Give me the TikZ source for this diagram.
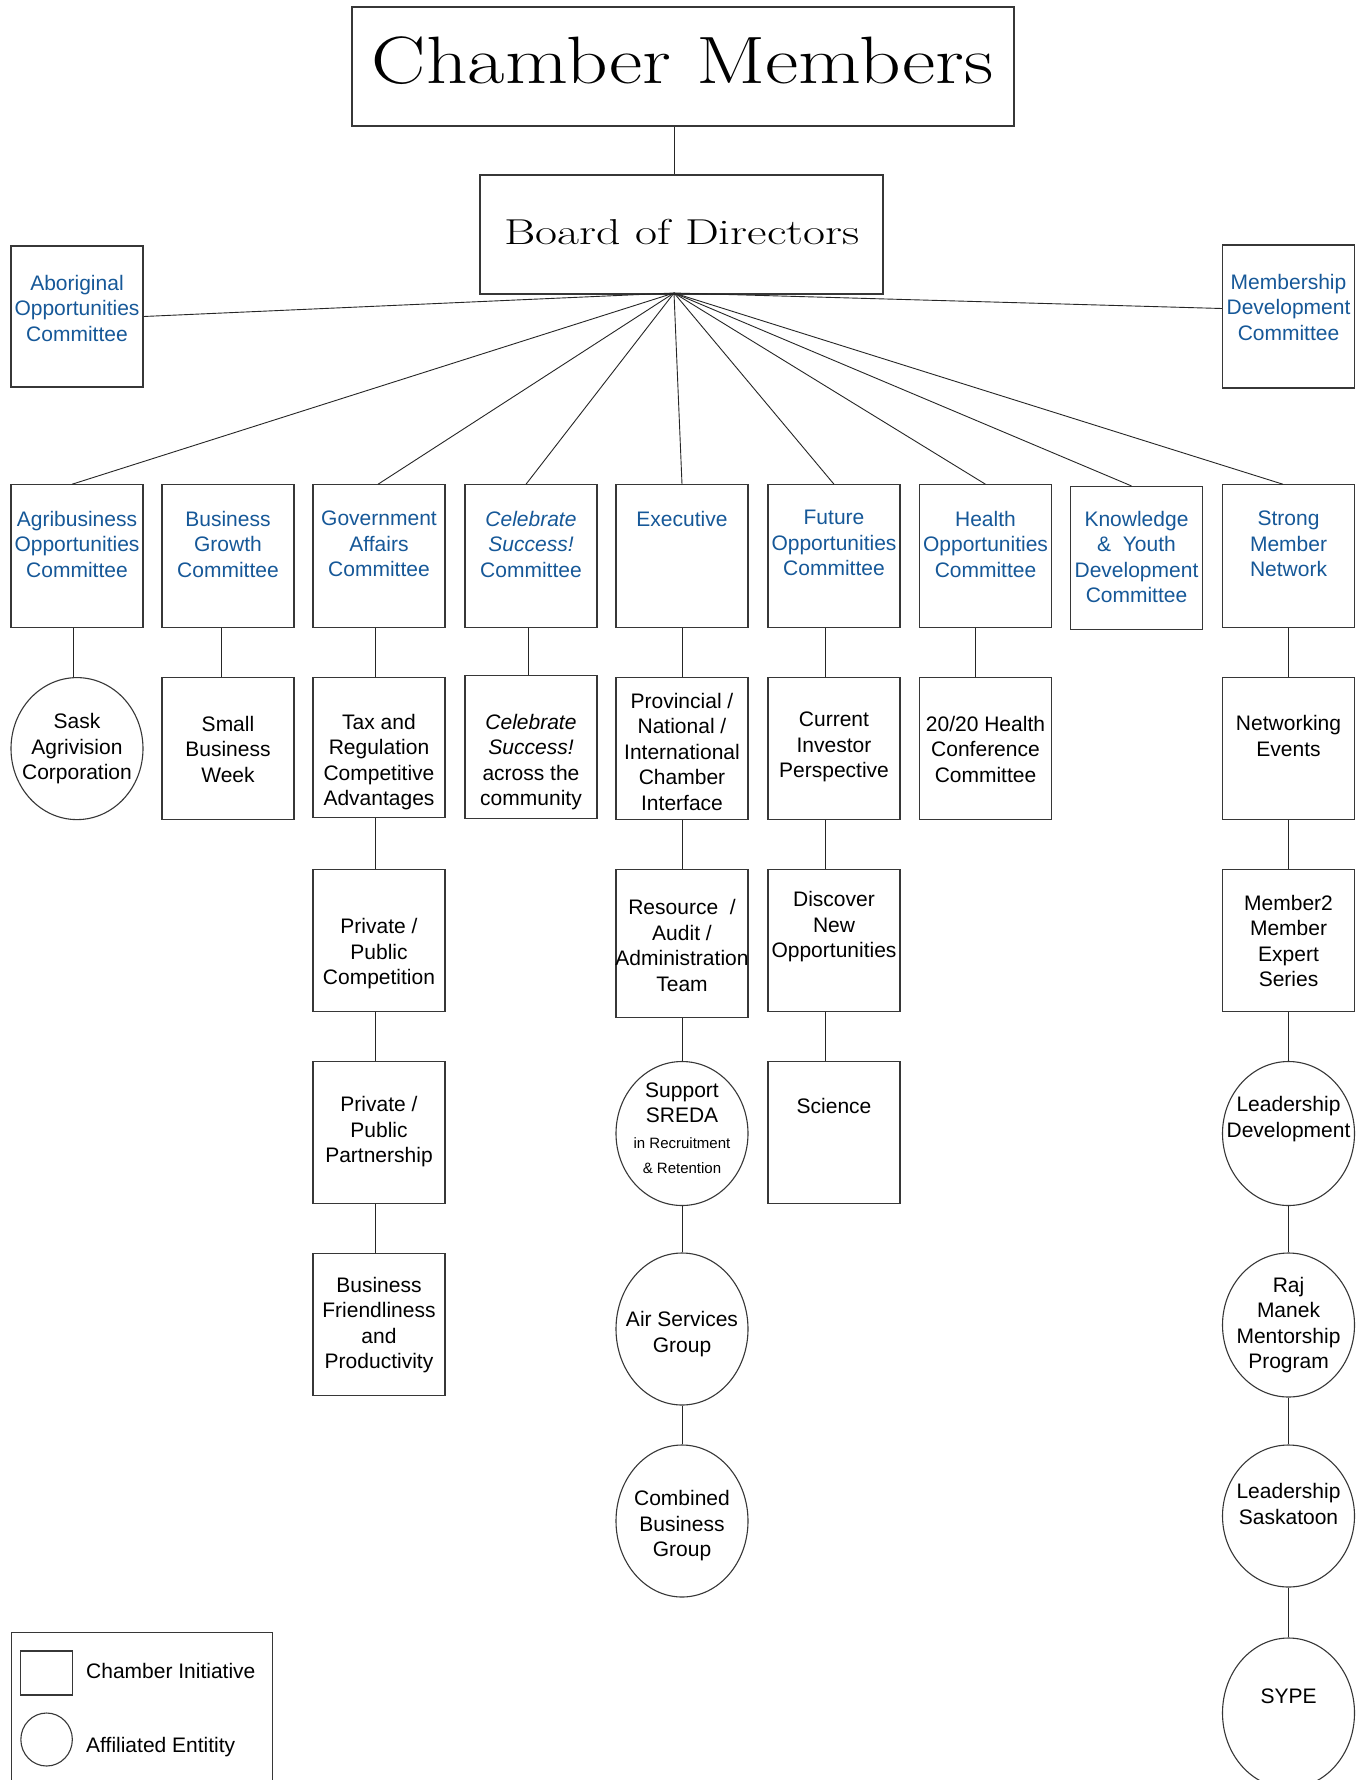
\documentclass[tikz,border=0pt]{standalone}
\usepackage{fontspec}
\setsansfont{Liberation Sans}
\usetikzlibrary{shapes.geometric}
\definecolor{cblue}{RGB}{22,88,152}
\definecolor{lin}{RGB}{55,55,55}
\begin{document}
\begin{tikzpicture}[x=1pt,y=-1pt,
  shp/.style={draw=lin, line width=1.1pt, inner sep=0pt},
  bx/.style={shp, rectangle, minimum width=132pt, minimum height=143pt},
  ov/.style={shp, ellipse, minimum width=132pt, minimum height=#1},
  ov/.default=143pt,
  tx/.style={font=\sffamily\fontsize{21}{25.5}\selectfont, align=center, inner sep=0pt},
  btx/.style={tx, text=cblue},
  ln/.style={draw=black!85, line width=0.9pt}
]
\useasboundingbox (0,0) rectangle (1369,1780);
\clip (0,0) rectangle (1369,1780);
\fill[white] (0,0) rectangle (1369,1780);

% top
\node[shp, rectangle, minimum width=662pt, minimum height=119pt] (title) at (683,66.5) {};
\node[inner sep=0pt, font=\rmfamily\fontsize{67}{70}\selectfont] (titlet) at (683,61) {\scalebox{1.215}[1]{Chamber Members}};
\node[shp, rectangle, minimum width=403pt, minimum height=119pt] (board) at (681.5,234.5) {};
\node[inner sep=0pt, font=\rmfamily\fontsize{36}{40}\selectfont] (boardt) at (682,232) {\scalebox{1.33}[1]{Board of Directors}};
\coordinate (fan) at (674,293);

% side committees
\node[bx, minimum height=141pt] (abor) at (77,316.5) {};
\node[btx] (abort) at (77,308) {Aboriginal\\Opportunities\\Committee};
\node[bx] (memb) at (1288.5,316.5) {};
\node[btx] (membt) at (1288.5,307) {Membership\\Development\\Committee};

% row 1
\node[bx] (agri) at (77,556.3) {};
\node[btx] (agrit) at (77,544) {Agribusiness\\Opportunities\\Committee};
\node[bx] (bg) at (228,556.3) {};
\node[btx] (bgt) at (228,544) {Business\\Growth\\Committee};
\node[bx] (gov) at (379,556.3) {};
\node[btx] (govt) at (379,544) {Government\\Affairs\\Committee};
\node[bx] (cel) at (531,556.3) {};
\node[btx] (celt) at (531,544) {\itshape Celebrate\\\itshape Success!\\Committee};
\node[bx] (exec) at (682,556.3) {};
\node[btx] (exect) at (682,519) {Executive};
\node[bx] (fut) at (834,556.3) {};
\node[btx] (futt) at (834,543) {Future\\Opportunities\\Committee};
\node[bx] (hea) at (985.5,556.3) {};
\node[btx] (heat) at (985.5,544) {Health\\Opportunities\\Committee};
\node[bx] (kno) at (1136.5,558) {};
\node[btx] (knot) at (1136.5,557) {Knowledge\\\&\ \ Youth\\Development\\Committee};
\node[bx] (str) at (1288.5,556.3) {};
\node[btx] (strt) at (1288.5,544) {Strong\\Member\\Network};

% row 2
\node[ov=142pt] (sask) at (77,748.6) {};
\node[tx] (saskt) at (77,749) {Sask\\Agrivision\\Corporation};
\node[bx, minimum height=142pt] (small) at (228,748.6) {};
\node[tx] (smallt) at (228,749) {Small\\Business\\Week};
\node[bx, minimum height=140pt] (tax) at (379,747.5) {};
\node[tx] (taxt) at (379,762) {Tax and\\Regulation\\Competitive\\Advantages};
\node[bx, minimum height=143pt] (cel2) at (531,747) {};
\node[tx] (cel2t) at (531,762) {\itshape Celebrate\\\itshape Success!\\across the\\community};
\node[bx, minimum height=142pt] (prov) at (682,748.6) {};
\node[tx] (provt) at (682,751.5) {Provincial /\\National /\\International\\Chamber\\Interface};
\node[bx, minimum height=142pt] (cur) at (834,748.6) {};
\node[tx] (curt) at (834,747) {Current\\Investor\\Perspective};
\node[bx, minimum height=142pt] (hc) at (985.5,748.6) {};
\node[tx] (hct) at (985.5,749) {20/20 Health\\Conference\\Committee};
\node[bx, minimum height=142pt] (netw) at (1288.5,748.6) {};
\node[tx] (netwt) at (1288.5,736) {Networking\\Events};

% row 3
\node[bx, minimum height=142pt] (ppc) at (379,940.5) {};
\node[tx] (ppct) at (379,953.6) {Private /\\Public\\Competition};
\node[bx, minimum height=147.6pt] (res) at (682,943.3) {};
\node[tx] (rest) at (682,945.6) {Resource\ \ /\\Audit /\\Administration\\Team};
\node[bx, minimum height=142pt] (disc) at (834,940.5) {};
\node[tx] (disct) at (834,927) {Discover\\New\\Opportunities};
\node[bx, minimum height=142pt] (mm) at (1288.5,940.5) {};
\node[tx] (mmt) at (1288.5,941) {Member2\\Member\\Expert\\Series};

% row 4
\node[bx, minimum height=142pt] (ppp) at (379,1132.4) {};
\node[tx] (pppt) at (379,1132) {Private /\\Public\\Partnership};
\node[ov=144pt] (sreda) at (682,1133.5) {};
\node[tx] (sredat) at (682,1128) {Support\\SREDA\\{\fontsize{15}{18}\selectfont in Recruitment}\\{\fontsize{15}{18}\selectfont \& Retention}};
\node[bx, minimum height=142pt] (sci) at (834,1132.4) {};
\node[tx] (scit) at (834,1105.7) {Science};
\node[ov=144pt] (ld) at (1288.5,1133.5) {};
\node[tx] (ldt) at (1288.5,1119) {Leadership\\Development};

% row 5
\node[bx, minimum height=142pt] (bf) at (379,1324.3) {};
\node[tx] (bft) at (379,1325) {Business\\Friendliness\\and\\Productivity};
\node[ov=152pt] (air) at (682,1329) {};
\node[tx] (airt) at (682,1334) {Air Services\\Group};
\node[ov=144pt] (raj) at (1288.5,1325) {};
\node[tx] (rajt) at (1288.5,1325) {Raj\\Manek\\Mentorship\\Program};

% row 6-7
\node[ov=152pt] (comb) at (682,1521) {};
\node[tx] (combt) at (682,1526) {Combined\\Business\\Group};
\node[ov=142pt] (ls) at (1288.5,1516) {};
\node[tx] (lst) at (1288.5,1504) {Leadership\\Saskatoon};
\node[ov=150pt] (sype) at (1288.5,1713) {};
\node[tx] (sypet) at (1288.5,1696) {SYPE};

% legend
\node[shp, rectangle, minimum width=261pt, minimum height=200pt, anchor=north west] (legend) at (11,1632) {};
\node[shp, rectangle, minimum width=51.5pt, minimum height=44pt] (legsq) at (46.5,1673) {};
\node[shp, ellipse, minimum width=51.5pt, minimum height=53pt] (legci) at (46.6,1739.5) {};
\node[tx, anchor=west] (legt1) at (86,1671) {Chamber Initiative};
\node[tx, anchor=west] (legt2) at (86,1747) {Affiliated Entitity};

% connectors
\draw[ln] (title.south -| fan) -- (board.north -| fan);
\draw[ln] (fan) -- (abor.east);
\draw[ln] (fan) -- ([yshift=8pt]memb.west);
\draw[ln] (fan) -- ([xshift=-5pt]agri.north);
\draw[ln] (fan) -- ([xshift=-1pt]gov.north);
\draw[ln] (fan) -- ([xshift=-5pt]cel.north);
\draw[ln] (fan) -- (exec.north);
\draw[ln] (fan) -- (fut.north);
\draw[ln] (fan) -- (hea.north);
\draw[ln] (fan) -- ([xshift=-5pt]kno.north);
\draw[ln] (fan) -- ([xshift=-5.5pt]str.north);

\draw[ln] ([xshift=-4pt]agri.south) -- ([xshift=-4pt]sask.north);
\draw[ln] ([xshift=-7pt]bg.south) -- ([xshift=-7pt]small.north);
\draw[ln] ([xshift=-4pt]gov.south) -- ([xshift=-4pt]tax.north);
\draw[ln] ([xshift=-3pt]cel.south) -- ([xshift=-3pt]cel2.north);
\draw[ln] (exec.south) -- (prov.north);
\draw[ln] ([xshift=-9pt]fut.south) -- ([xshift=-9pt]cur.north);
\draw[ln] ([xshift=-10.5pt]hea.south) -- ([xshift=-10.5pt]hc.north);
\draw[ln] (str.south) -- (netw.north);

\draw[ln] ([xshift=-4pt]tax.south) -- ([xshift=-4pt]ppc.north);
\draw[ln] ([xshift=-4pt]ppc.south) -- ([xshift=-4pt]ppp.north);
\draw[ln] ([xshift=-4pt]ppp.south) -- ([xshift=-4pt]bf.north);

\draw[ln] (prov.south) -- (res.north);
\draw[ln] (res.south) -- (sreda.north);
\draw[ln] (sreda.south) -- (air.north);
\draw[ln] (air.south) -- (comb.north);

\draw[ln] ([xshift=-9pt]cur.south) -- ([xshift=-9pt]disc.north);
\draw[ln] ([xshift=-9pt]disc.south) -- ([xshift=-9pt]sci.north);

\draw[ln] (netw.south) -- (mm.north);
\draw[ln] (mm.south) -- (ld.north);
\draw[ln] (ld.south) -- (raj.north);
\draw[ln] (raj.south) -- (ls.north);
\draw[ln] (ls.south) -- (sype.north);
\end{tikzpicture}
\end{document}
